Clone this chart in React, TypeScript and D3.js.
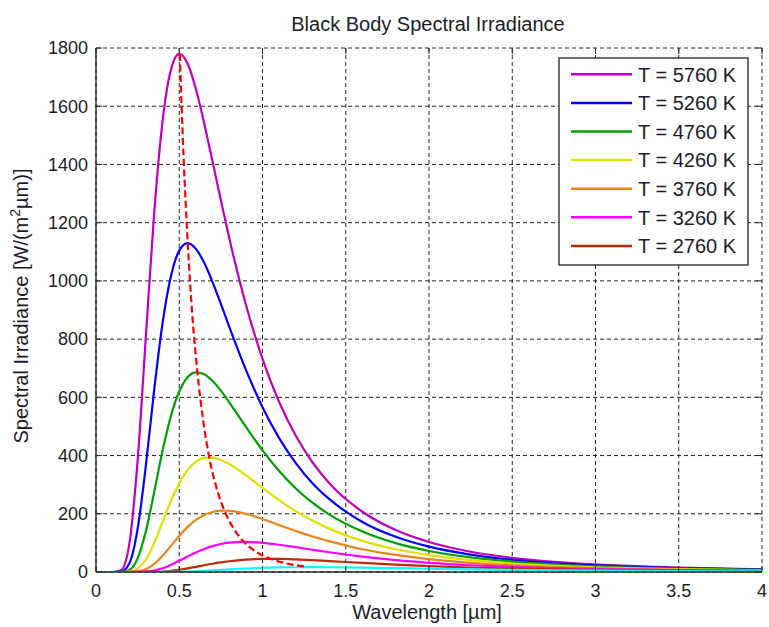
import React from "react";
import * as d3 from "d3";

const wavelengths = [0, 0.1, 0.15, 0.2, 0.25, 0.3, 0.35, 0.4, 0.45, 0.5, 0.55, 0.6, 0.65, 0.7, 0.75, 0.8, 0.9, 1.0, 1.1, 1.2, 1.3, 1.4, 1.6, 1.8, 2.0, 2.25, 2.5, 2.75, 3.0, 3.5, 4.0];

const t5760 = [0, 0, 6.3, 96, 383, 813, 1237, 1550, 1725, 1780, 1747, 1659, 1541, 1410, 1277, 1148, 919, 732, 584, 468, 377, 306, 207, 144, 103, 69.6, 48.7, 35.1, 25.9, 14.9, 9.2];
const t5260 = [0, 0, 1.3, 29, 148, 368, 628, 856, 1016, 1104, 1130, 1110, 1062, 996, 921, 843, 695, 566, 460, 374, 305, 251, 172, 121, 87, 59.7, 42.1, 30.5, 22.6, 13.1, 8.1];
const t4760 = [0, 0, 0.2, 7, 47, 141, 276, 417, 536, 620, 669, 686, 679, 656, 623, 583, 499, 418, 347, 287, 238, 198, 139, 99, 72, 50, 35.6, 25.9, 19.3, 11.3, 7.1];
const t4260 = [0, 0, 0, 1.2, 11.4, 43, 100, 172, 244, 305, 350, 379, 392, 393, 385, 371, 332, 289, 247, 209, 177, 149, 107, 78, 58, 40.6, 29.2, 21.5, 15.8, 9.6, 6.0];
const t3760 = [0, 0, 0, 0.1, 1.9, 9.7, 27.8, 55.9, 89.7, 124, 155, 179, 196, 206, 211, 210, 200, 182, 161, 141, 122, 106, 78, 58.6, 44.2, 31.6, 23.1, 17.2, 13.0, 7.8, 5.0];
const t3260 = [0, 0, 0, 0, 0.2, 1.4, 5.2, 12.9, 24.4, 38.4, 53.2, 67.2, 79.3, 89.0, 96.1, 100.7, 103.5, 100.3, 93.6, 85.2, 76.4, 67.9, 52.8, 40.8, 31.6, 23.2, 17.3, 13.1, 10.0, 6.2, 4.0];
const t2760 = [0, 0, 0, 0, 0, 0.1, 0.5, 1.7, 4.1, 7.8, 12.4, 17.7, 23.2, 28.4, 33.0, 36.9, 42.4, 44.8, 44.8, 43.2, 40.6, 37.6, 31.2, 25.3, 20.3, 15.5, 11.9, 9.2, 7.2, 4.5, 3.0];
const t2260 = [0, 0, 0, 0, 0, 0, 0, 0.1, 0.3, 0.8, 1.5, 2.6, 3.9, 5.5, 7.1, 8.7, 11.8, 14.1, 15.6, 16.4, 16.6, 16.3, 14.9, 13.0, 11.1, 8.9, 7.1, 5.7, 4.6, 3.0, 2.0];

const peakWavelengths = [0.503, 0.526, 0.551, 0.578, 0.609, 0.643, 0.68, 0.723, 0.771, 0.826, 0.889, 0.963, 1.05, 1.155, 1.27];
const peakValues = [1780, 1426, 1130, 886, 686, 524, 394, 291, 211, 150, 103, 69, 45, 28, 18];

const seriesNames = ["T = 5760 K", "T = 5260 K", "T = 4760 K", "T = 4260 K", "T = 3760 K", "T = 3260 K", "T = 2760 K", "T = 2260 K"];
const seriesValues = [t5760, t5260, t4760, t4260, t3760, t3260, t2760, t2260];
const seriesColors = ["#bf00bf", "#0000ff", "#00a000", "#e0e000", "#e8861a", "#ff00ff", "#c02808", "#00ffff"];
const legendCount = 7;

const xTicks = [0, 0.5, 1, 1.5, 2, 2.5, 3, 3.5, 4];
const yTicks = [0, 200, 400, 600, 800, 1000, 1200, 1400, 1600, 1800];

const W = 769;
const H = 627;
const L = 96, R = 762, T = 48, B = 572;
const FONT = "'Liberation Sans', Arial, Helvetica, sans-serif";
const TXT = "#1c1c28";

export default function App() {
  const x = d3.scaleLinear().domain([0, 4]).range([L, R]);
  const y = d3.scaleLinear().domain([0, 1800]).range([B, T]);
  const line = d3
    .line<[number, number]>()
    .x((d) => x(d[0]))
    .y((d) => y(d[1]))
    .curve(d3.curveMonotoneX);

  const peakPts: [number, number][] = peakWavelengths.map((w, i) => [w, peakValues[i]]);

  const legX = 559, legY = 58, legW = 189, legH = 207;
  const rowH = 28.6;

  return (
    <svg width={W} height={H} style={{ position: "absolute", left: 0, top: 0, background: "#fff" }} fontFamily={FONT}>
      <defs>
        <clipPath id="plotclip">
          <rect x={L} y={T - 2} width={R - L + 2} height={B - T + 2} />
        </clipPath>
      </defs>
      <rect x={0} y={0} width={W} height={H} fill="#fff" />
      {/* grid */}
      {xTicks.map((t) => (
        <line key={"gx" + t} x1={x(t)} x2={x(t)} y1={T} y2={B} stroke="#222" strokeWidth={1} strokeDasharray="4,3" />
      ))}
      {yTicks.map((t) => (
        <line key={"gy" + t} x1={L} x2={R} y1={y(t)} y2={y(t)} stroke="#222" strokeWidth={1} strokeDasharray="4,3" />
      ))}
      {/* curves */}
      <g clipPath="url(#plotclip)">
        {seriesValues.map((vals, i) => (
          <path
            key={"s" + i}
            d={line(wavelengths.map((w, j) => [w, vals[j]] as [number, number])) || ""}
            fill="none"
            stroke={seriesColors[i]}
            strokeWidth={2.2}
          />
        ))}
        <path d={line(peakPts) || ""} fill="none" stroke="#ff0000" strokeWidth={2.2} strokeDasharray="7,3.5" />
      </g>
      {/* axes */}
      <line x1={L} x2={L} y1={T} y2={B} stroke="#262626" strokeWidth={1.3} />
      <line x1={L} x2={R} y1={B} y2={B} stroke="#262626" strokeWidth={1.3} />
      {xTicks.map((t) => (
        <g key={"xt" + t}>
          <line x1={x(t)} x2={x(t)} y1={B} y2={B - 6} stroke="#262626" />
          <line x1={x(t)} x2={x(t)} y1={T} y2={T + 6} stroke="#262626" />
          <text x={x(t)} y={597} textAnchor="middle" fontSize={18} fill={TXT}>
            {String(t)}
          </text>
        </g>
      ))}
      {yTicks.map((t) => (
        <g key={"yt" + t}>
          <line x1={L} x2={L + 6} y1={y(t)} y2={y(t)} stroke="#262626" />
          <line x1={R} x2={R - 6} y1={y(t)} y2={y(t)} stroke="#262626" />
          <text x={88} y={y(t)} dy="0.35em" textAnchor="end" fontSize={18} fill={TXT}>
            {String(t)}
          </text>
        </g>
      ))}
      {/* title and labels */}
      <text x={428} y={31} textAnchor="middle" fontSize={20} fill={TXT}>
        Black Body Spectral Irradiance
      </text>
      <text x={427} y={619} textAnchor="middle" fontSize={20} fill={TXT}>
        Wavelength [µm]
      </text>
      <text transform={`translate(28,306) rotate(-90)`} textAnchor="middle" fontSize={20} fill={TXT}>
        Spectral Irradiance [W/(m
        <tspan dy={-8} fontSize={14}>2</tspan>
        <tspan dy={8}>µm)]</tspan>
      </text>
      {/* legend */}
      <rect x={legX} y={legY} width={legW} height={legH} fill="#fff" stroke="#222" strokeWidth={1.3} />
      {seriesNames.slice(0, legendCount).map((name, i) => {
        const cy = legY + 16.3 + i * rowH;
        return (
          <g key={"lg" + i}>
            <line x1={571} x2={632} y1={cy} y2={cy} stroke={seriesColors[i]} strokeWidth={2.5} />
            <text x={638} y={cy} dy="0.36em" fontSize={20} fill={TXT}>
              {name}
            </text>
          </g>
        );
      })}
    </svg>
  );
}
